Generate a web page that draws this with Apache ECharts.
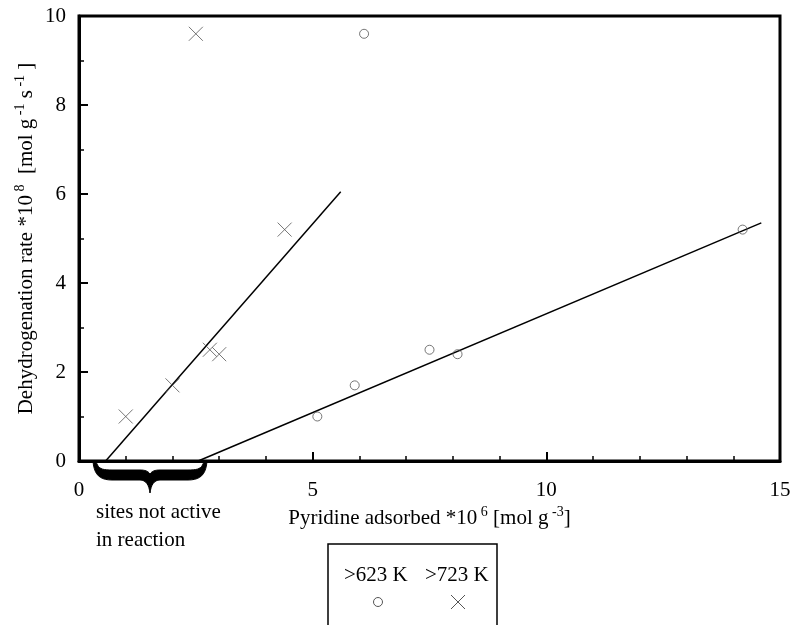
<!DOCTYPE html>
<html><head><meta charset="utf-8">
<script src="https://cdn.jsdelivr.net/npm/echarts@6/dist/echarts.min.js"></script>
<style>html,body{margin:0;padding:0;background:#fff}#c{width:795px;height:625px}</style>
</head><body><div id="c"></div>
<script>
const x623 = [5.1, 5.9, 7.5, 8.1, 14.2, 6.1];
const y623 = [1.0, 1.7, 2.5, 2.4, 5.2, 9.6];
const x723 = [1.0, 2.0, 2.8, 3.0, 4.4, 2.5];
const y723 = [1.0, 1.7, 2.5, 2.4, 5.2, 9.6];
const fit623X = [2.55, 14.6];
const fit623Y = [0, 5.35];
const fit723X = [0.57, 5.6];
const fit723Y = [0, 6.05];
const legendNames = ['>623 K', '>723 K'];
const xTicks = [0, 5, 10, 15];
const yTicks = [0, 2, 4, 6, 8, 10];

const zip = (a, b) => a.map((v, i) => [v, b[i]]);
const FONT = '"Liberation Serif", "Times New Roman", serif';
const crossPath = 'path://M0,0L10,10M10,0L0,10';

// brace outline sampled from cubic beziers (annotation shape)
function bez(p0, p1, p2, p3, n) {
  const pts = [];
  for (let i = 1; i <= n; i++) {
    const t = i / n, u = 1 - t;
    pts.push([
      u*u*u*p0[0] + 3*u*u*t*p1[0] + 3*u*t*t*p2[0] + t*t*t*p3[0],
      u*u*u*p0[1] + 3*u*u*t*p1[1] + 3*u*t*t*p2[1] + t*t*t*p3[1]
    ]);
  }
  return pts;
}
function bracePoints() {
  let pts = [[93, 461]];
  pts = pts.concat(bez([93,461],[94,475],[100,480],[112,480],10));
  pts.push([140,480]);
  pts = pts.concat(bez([140,480],[146,480],[149,485],[150,493],8));
  pts = pts.concat(bez([150,493],[151,485],[154,480],[160,480],8));
  pts.push([188,480]);
  pts = pts.concat(bez([188,480],[200,480],[206,475],[207,461],10));
  pts.push([204,461]);
  pts = pts.concat(bez([204,461],[202,469],[198,470],[188,470],10));
  pts.push([160,470]);
  pts = pts.concat(bez([160,470],[155,470],[152,471],[150,474],8));
  pts = pts.concat(bez([150,474],[148,471],[145,470],[140,470],8));
  pts.push([112,470]);
  pts = pts.concat(bez([112,470],[102,470],[98,469],[96,461],10));
  return pts;
}

const chart = echarts.init(document.getElementById('c'));
const supStyle = { fontSize: 14, fontFamily: FONT, color: '#000', verticalAlign: 'top', lineHeight: 26 };
const baseStyle = { fontSize: 21, fontFamily: FONT, color: '#000', lineHeight: 26 };

chart.setOption({
  animation: false,
  backgroundColor: '#fff',
  grid: { left: 79, right: 15, top: 16, bottom: 164, show: true, borderColor: '#000', borderWidth: 3 },
  xAxis: {
    type: 'value', min: xTicks[0], max: xTicks[xTicks.length - 1], interval: 5,
    name: '{b|Pyridine adsorbed *10}{s| 6}{b| [mol g}{s| -3}{b|]}',
    nameLocation: 'middle', nameGap: 44, nameMoveOverlap: false,
    nameTextStyle: { rich: { b: baseStyle, s: supStyle } },
    axisLine: { show: true, lineStyle: { color: '#000', width: 3 } },
    axisTick: { show: true, inside: true, length: 9, lineStyle: { color: '#000', width: 2 } },
    minorTick: { show: true, splitNumber: 5, length: 5, lineStyle: { color: '#000', width: 1.5 } },
    splitLine: { show: false },
    axisLabel: { margin: 19, fontSize: 21, fontFamily: FONT, color: '#000' }
  },
  yAxis: {
    type: 'value', min: yTicks[0], max: yTicks[yTicks.length - 1], interval: 2,
    name: '{b|Dehydrogenation rate *10}{s| 8}{b|  [mol g}{s| -1}{b| s}{s| -1}{b| ]}',
    nameLocation: 'middle', nameGap: 40, nameRotate: 90, nameMoveOverlap: false,
    nameTextStyle: { rich: { b: baseStyle, s: supStyle } },
    axisLine: { show: true, lineStyle: { color: '#000', width: 3 } },
    axisTick: { show: true, inside: true, length: 9, lineStyle: { color: '#000', width: 2 } },
    minorTick: { show: true, splitNumber: 2, length: 5, lineStyle: { color: '#000', width: 1.5 } },
    splitLine: { show: false },
    axisLabel: { margin: 13, fontSize: 21, fontFamily: FONT, color: '#000' }
  },
  series: [
    { name: legendNames[0] + ' fit', type: 'line', data: zip(fit623X, fit623Y), showSymbol: false, symbol: 'none',
      lineStyle: { color: '#000', width: 1.5 }, z: 2 },
    { name: legendNames[1] + ' fit', type: 'line', data: zip(fit723X, fit723Y), showSymbol: false, symbol: 'none',
      lineStyle: { color: '#000', width: 1.5 }, z: 2 },
    { name: legendNames[0], type: 'scatter', data: zip(x623, y623), symbol: 'circle', symbolSize: 9,
      itemStyle: { color: 'rgba(0,0,0,0)', borderColor: '#555', borderWidth: 1 }, z: 3 },
    { name: legendNames[1], type: 'scatter', data: zip(x723, y723), symbol: crossPath, symbolSize: 14,
      itemStyle: { color: 'rgba(0,0,0,0)', borderColor: '#555', borderWidth: 1 }, z: 3 }
  ],
  graphic: [
    { type: 'polygon', z: 10, shape: { points: bracePoints() }, style: { fill: '#000', stroke: '#000', lineWidth: 1 } },
    { type: 'text', left: 96, top: 502, style: { text: 'sites not active', font: '21px ' + FONT, fill: '#000' } },
    { type: 'text', left: 96, top: 530, style: { text: 'in reaction', font: '21px ' + FONT, fill: '#000' } },
    { type: 'rect', shape: { x: 328, y: 544, width: 169, height: 100 }, style: { fill: 'none', stroke: '#000', lineWidth: 1.5 } },
    { type: 'text', left: 344, top: 565, style: { text: legendNames[0], font: '21px ' + FONT, fill: '#000' } },
    { type: 'text', left: 425, top: 565, style: { text: legendNames[1], font: '21px ' + FONT, fill: '#000' } },
    { type: 'circle', shape: { cx: 378, cy: 602, r: 4.5 }, style: { fill: 'none', stroke: '#555', lineWidth: 1 } },
    { type: 'line', shape: { x1: 451, y1: 595, x2: 465, y2: 609 }, style: { stroke: '#555', lineWidth: 1 } },
    { type: 'line', shape: { x1: 465, y1: 595, x2: 451, y2: 609 }, style: { stroke: '#555', lineWidth: 1 } }
  ]
});
</script></body></html>
